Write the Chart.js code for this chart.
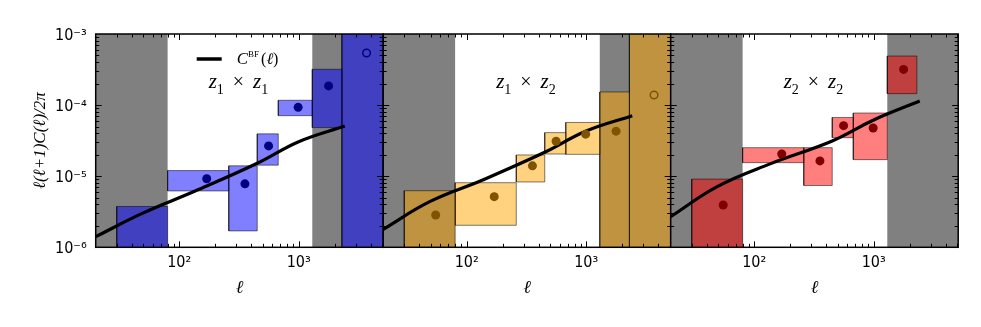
<!DOCTYPE html>
<html><head><meta charset="utf-8">
<script src="https://cdn.jsdelivr.net/npm/chart.js@4.4.1/dist/chart.umd.min.js"></script>
<style>
html,body{margin:0;padding:0;background:#fff;}
#wrap{position:relative;width:981px;height:327px;overflow:hidden;background:#fff;}
canvas{position:absolute;left:0;top:0;}
</style></head><body>
<div id="wrap">
<canvas id="c1" width="981" height="327"></canvas>
<canvas id="c2" width="981" height="327"></canvas>
<canvas id="c3" width="981" height="327"></canvas>
</div>
<script>
// ---------------- data ----------------
const binEdges = [30, 80, 260, 450, 675, 1300, 2300, 9000];
const maskEdges = [80, 1300];               // shaded ℓ ranges: below first, above second
const pointEll = [55, 170, 355, 560, 990, 1780];
const openEll = 3700;
const curveEll = [20, 49, 136, 450, 1000, 2430];
const xTickValues = [100, 1000];
const xTickLabels = ['10²', '10³'];
const yTickValues = [1e-6, 1e-5, 1e-4, 1e-3];
const yTickLabels = ['10⁻⁶', '10⁻⁵', '10⁻⁴', '10⁻³'];

// z1 x z1
const z11Top = [3.75e-6, 1.2e-5, 1.4e-5, 3.94e-5, 1.17e-4, 3.19e-4, 1e-2];
const z11Bot = [1e-9, 6.2e-6, 1.7e-6, 1.43e-5, 7.1e-5, 4.83e-5, 1e-9];
const z11Pts = [null, 9.2e-6, 7.8e-6, 2.67e-5, 9.3e-5, 1.86e-4];
const z11Open = 5.4e-4;
const z11Curve = [1.41e-6, 3.0e-6, 6.19e-6, 1.52e-5, 3.06e-5, 5.08e-5];

// z1 x z2
const z12Top = [6.25e-6, 8.1e-6, 1.99e-5, 4.1e-5, 5.7e-5, 1.53e-4, 1e-2];
const z12Bot = [1e-9, 2.04e-6, 8.3e-6, 2.05e-5, 2.03e-5, 1e-9, 1e-9];
const z12Pts = [2.85e-6, 5.15e-6, 1.4e-5, 3.1e-5, 3.9e-5, 4.3e-5];
const z12Open = 1.39e-4;
const z12Curve = [1.79e-6, 4.38e-6, 8.85e-6, 2.17e-5, 4.32e-5, 7.1e-5];

// z2 x z2
const z22Top = [9.1e-6, 2.52e-5, 2.52e-5, 6.7e-5, 7.74e-5, 4.9e-4];
const z22Bot = [1e-9, 1.55e-5, 7.4e-6, 3.48e-5, 1.71e-5, 1.45e-4];
const z22Pts = [3.93e-6, 2.05e-5, 1.64e-5, 5.14e-5, 4.76e-5, 3.18e-4];
const z22Open = null;
const z22Curve = [2.7e-6, 7.13e-6, 1.49e-5, 3.13e-5, 6.17e-5, 1.14e-4];

// ---------------- helpers ----------------
const MATH = '"Liberation Serif", "DejaVu Serif", serif';
const SANS = '"DejaVu Sans Condensed", "DejaVu Sans", sans-serif';

function rect(x0, x1, y0, y1) {
  return [{x:x0,y:y0},{x:x1,y:y0},{x:x1,y:y1},{x:x0,y:y1},{x:x0,y:y0}];
}
function buildDatasets(top, bot, pts, open, curve, fill, dark) {
  const ds = [];
  ds.push({data: pointEll.map((l,i)=>({x:l, y:pts[i]})), showLine:false, pointRadius:4.5,
    pointBackgroundColor:dark, pointBorderColor:dark, pointBorderWidth:0, fill:false});
  if (open != null) ds.push({data:[{x:openEll, y:open}], showLine:false, pointRadius:3.8,
    pointBackgroundColor:'rgba(0,0,0,0)', pointBorderColor:dark, pointBorderWidth:1.5, fill:false});
  ds.push({data: curveEll.map((l,i)=>({x:l, y:curve[i]})), borderColor:'#000', borderWidth:3.2,
    pointRadius:0, tension:0.4, fill:false});
  top.forEach((t,i) => {
    ds.push({data: rect(binEdges[i], binEdges[i+1], bot[i], t), fill:'shape',
      backgroundColor:fill, borderColor:'rgba(0,0,0,0.5)', borderWidth:1, pointRadius:0, tension:0});
  });
  ds.push({data: rect(1, maskEdges[0], 1e-9, 1), fill:'shape', backgroundColor:'#808080', borderWidth:0, pointRadius:0});
  ds.push({data: rect(maskEdges[1], 1e6, 1e-9, 1), fill:'shape', backgroundColor:'#808080', borderWidth:0, pointRadius:0});
  return ds;
}

function drawParts(ctx, parts, x0, base) {
  let x = x0;
  for (const p of parts) {
    if (p.gap) { x += p.gap; continue; }
    ctx.font = p.f; ctx.fillText(p.t, x, base + (p.dy||0));
    x += ctx.measureText(p.t).width;
  }
  return x;
}
function partsWidth(ctx, parts) {
  let w = 0;
  for (const p of parts) { if (p.gap) { w += p.gap; continue; } ctx.font = p.f; w += ctx.measureText(p.t).width; }
  return w;
}

const deco = {
  id: 'deco',
  afterDraw(chart, args, opts) {
    const {ctx, chartArea: a, scales: {x, y}} = chart;
    ctx.save();
    ctx.strokeStyle = '#000'; ctx.lineWidth = 1;
    const seg = (x1,y1,x2,y2) => { ctx.beginPath(); ctx.moveTo(x1,y1); ctx.lineTo(x2,y2); ctx.stroke(); };
    for (let e = 1; e <= 3; e++) for (let m = 1; m <= 9; m++) {
      const v = m * Math.pow(10, e);
      if (v <= x.min || v >= x.max) continue;
      const px = Math.round(x.getPixelForValue(v)) + 0.5, len = m === 1 ? 6 : 3.5;
      seg(px, a.bottom, px, a.bottom - len); seg(px, a.top, px, a.top + len);
    }
    for (let e = -6; e <= -4; e++) for (let m = 1; m <= 9; m++) {
      const v = m * Math.pow(10, e);
      if (v <= y.min * 1.0001 || v >= y.max * 0.9999) continue;
      const py = Math.round(y.getPixelForValue(v)) + 0.5, len = m === 1 ? 6 : 3.5;
      seg(a.left, py, a.left + len, py); seg(a.right, py, a.right - len, py);
    }
    ctx.lineWidth = 1.5;
    ctx.strokeRect(a.left, a.top, a.right - a.left, a.bottom - a.top);

    ctx.fillStyle = '#000'; ctx.textBaseline = 'alphabetic'; ctx.textAlign = 'left';
    const big = 'italic 21px ' + MATH, sub = '14px ' + MATH;
    const parts = [{t:'z', f:big}, {t:opts.a, f:sub, dy:5.5}, {gap:9}, {t:'×', f:'20px ' + MATH},
                   {gap:9}, {t:'z', f:big}, {t:opts.b, f:sub, dy:5.5}];
    const w = partsWidth(ctx, parts);
    drawParts(ctx, parts, (a.left + a.right) / 2 - w / 2 - 1, a.top + 54);

    if (opts.legend) {
      ctx.lineWidth = 3.5; ctx.lineCap = 'butt';
      seg(a.left + 101, a.top + 25, a.left + 126, a.top + 25);
      drawParts(ctx, [{t:'C', f:'italic 17px ' + MATH}, {t:'BF', f:'9px ' + MATH, dy:-7},
        {gap:2}, {t:'(', f:'16px ' + MATH}, {t:'ℓ', f:'italic 16px ' + MATH}, {t:')', f:'16px ' + MATH}],
        a.left + 141, a.top + 29.5);
    }
    ctx.restore();
  }
};

function makeChart(id, datasets, left, right, showY, lab) {
  return new Chart(document.getElementById(id), {
    type: 'line',
    data: {datasets},
    plugins: [deco],
    options: {
      responsive: false, animation: false, events: [],
      layout: {padding: {left: showY ? 0 : left, right: 981 - right, top: 34, bottom: 0}},
      plugins: {legend: {display:false}, tooltip: {enabled:false},
        filler: {propagate:false}, deco: lab},
      scales: {
        x: {type:'logarithmic', min:20, max:5100,
          grid:{display:false, drawTicks:false}, border:{display:false},
          afterBuildTicks: s => { s.ticks = xTickValues.map(v => ({value:v})); },
          afterFit: s => { s.height = 79.7; },
          ticks:{autoSkip:false, maxRotation:0, padding:6, color:'#000',
            font:{family:SANS, size:16},
            callback: v => xTickLabels[xTickValues.indexOf(v)]},
          title:{display:true, text:'ℓ', color:'#000', padding:{top:0, bottom:28},
            font:{family:MATH, size:18, style:'italic'}}
        },
        y: {type:'logarithmic', min:1e-6, max:1e-3, display: showY,
          grid:{display:false, drawTicks:false}, border:{display:false},
          afterBuildTicks: s => { s.ticks = yTickValues.map(v => ({value:v})); },
          afterFit: s => { s.width = showY ? left : 0; },
          ticks:{autoSkip:false, padding:9, labelOffset:1.5, color:'#000', font:{family:SANS, size:16},
            callback: v => yTickLabels[yTickValues.indexOf(v)]},
          title:{display:true, text:'ℓ(ℓ+1)C(ℓ)/2π', color:'#000', padding:{top:30, bottom:0},
            font:{family:MATH, size:17, style:'italic'}}
        }
      }
    }
  });
}

makeChart('c1', buildDatasets(z11Top, z11Bot, z11Pts, z11Open, z11Curve, 'rgba(0,0,255,0.5)', '#000080'),
  95.7, 383.2, true, {a:'1', b:'1', legend:true});
makeChart('c2', buildDatasets(z12Top, z12Bot, z12Pts, z12Open, z12Curve, 'rgba(255,165,0,0.5)', '#805300'),
  383.2, 670.7, false, {a:'1', b:'2', legend:false});
makeChart('c3', buildDatasets(z22Top, z22Bot, z22Pts, z22Open, z22Curve, 'rgba(255,0,0,0.5)', '#800000'),
  670.7, 958.2, false, {a:'2', b:'2', legend:false});
</script>
</body></html>
